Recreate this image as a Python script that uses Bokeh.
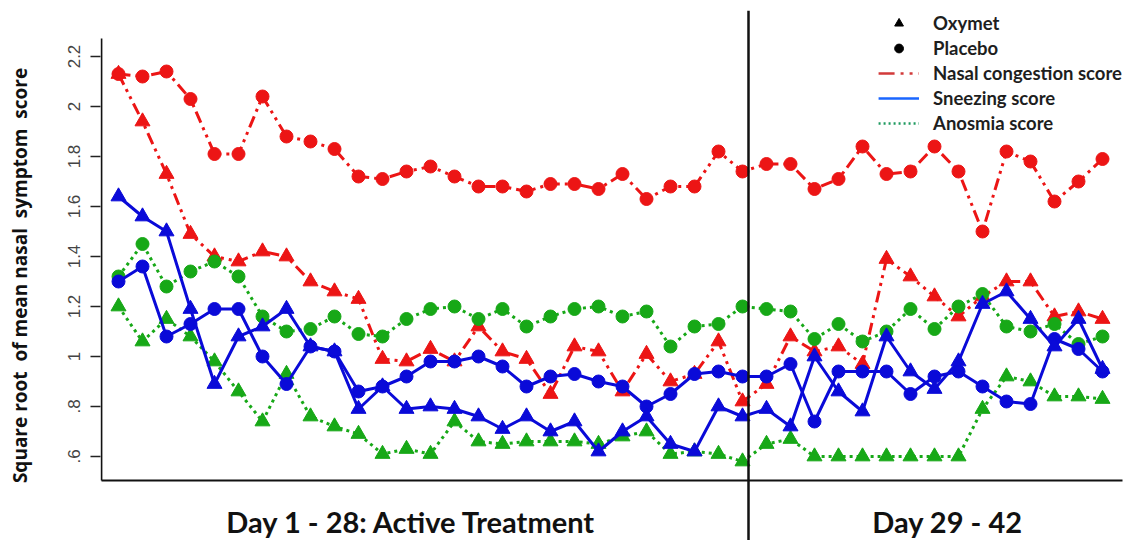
from bokeh.plotting import figure
from bokeh.models import Range1d, FixedTicker, Span, Legend, LegendItem, Label
from bokeh.embed import file_html
from bokeh.resources import INLINE

days = list(range(1, 43))

nasal_placebo = [2.13, 2.12, 2.14, 2.03, 1.81, 1.81, 2.04, 1.88, 1.86, 1.83,
                 1.72, 1.71, 1.74, 1.76, 1.72, 1.68, 1.68, 1.66, 1.69, 1.69,
                 1.67, 1.73, 1.63, 1.68, 1.68, 1.82, 1.74, 1.77, 1.77, 1.67,
                 1.71, 1.84, 1.73, 1.74, 1.84, 1.74, 1.50, 1.82, 1.78, 1.62,
                 1.70, 1.79]
nasal_oxymet = [2.13, 1.94, 1.73, 1.49, 1.40, 1.38, 1.42, 1.40, 1.30, 1.26,
                1.23, 0.99, 0.98, 1.03, 0.98, 1.12, 1.02, 0.99, 0.85, 1.04,
                1.02, 0.86, 1.01, 0.90, 0.93, 1.06, 0.82, 0.89, 1.08, 1.02,
                1.04, 0.97, 1.39, 1.32, 1.24, 1.16, 1.24, 1.30, 1.30, 1.16,
                1.18, 1.15]
sneezing_placebo = [1.30, 1.36, 1.08, 1.13, 1.19, 1.19, 1.00, 0.89, 1.04, 1.02,
                    0.86, 0.88, 0.92, 0.98, 0.98, 1.00, 0.96, 0.88, 0.92, 0.93,
                    0.90, 0.88, 0.80, 0.85, 0.93, 0.94, 0.92, 0.92, 0.97, 0.74,
                    0.94, 0.94, 0.94, 0.85, 0.92, 0.94, 0.88, 0.82, 0.81, 1.07,
                    1.03, 0.94]
sneezing_oxymet = [1.64, 1.56, 1.50, 1.19, 0.89, 1.08, 1.12, 1.19, 1.04, 1.02,
                   0.79, 0.88, 0.79, 0.80, 0.79, 0.76, 0.71, 0.76, 0.70, 0.74,
                   0.62, 0.70, 0.76, 0.65, 0.62, 0.80, 0.76, 0.79, 0.72, 1.00,
                   0.86, 0.78, 1.08, 0.94, 0.87, 0.98, 1.21, 1.26, 1.15, 1.04,
                   1.15, 0.95]
anosmia_placebo = [1.32, 1.45, 1.28, 1.34, 1.38, 1.32, 1.16, 1.10, 1.11, 1.16,
                   1.09, 1.08, 1.15, 1.19, 1.20, 1.15, 1.19, 1.12, 1.16, 1.19,
                   1.20, 1.16, 1.18, 1.04, 1.12, 1.13, 1.20, 1.19, 1.18, 1.07,
                   1.13, 1.06, 1.10, 1.19, 1.11, 1.20, 1.25, 1.12, 1.10, 1.13,
                   1.05, 1.08]
anosmia_oxymet = [1.20, 1.06, 1.15, 1.08, 0.98, 0.86, 0.74, 0.93, 0.76, 0.72,
                  0.69, 0.61, 0.63, 0.61, 0.74, 0.66, 0.65, 0.66, 0.66, 0.66,
                  0.65, 0.68, 0.70, 0.61, 0.62, 0.61, 0.58, 0.65, 0.67, 0.60,
                  0.60, 0.60, 0.60, 0.60, 0.60, 0.60, 0.79, 0.92, 0.90, 0.84,
                  0.84, 0.83]

y_ticks = [0.6, 0.8, 1.0, 1.2, 1.4, 1.6, 1.8, 2.0, 2.2]
y_tick_labels = [".6", ".8", "1", "1.2", "1.4", "1.6", "1.8", "2", "2.2"]
legend_labels = ["Oxymet", "Placebo", "Nasal congestion score", "Sneezing score", "Anosmia score"]
period_labels = ["Day 1 - 28: Active Treatment", "Day 29 - 42"]
y_title = "Square root\u00a0 of mean nasal\u00a0 symptom\u00a0 score"

RED = "#ec1515"
BLUE = "#0a0ad8"
GREEN = "#17a817"
DASHDOT = "12 5 3 5 3 5"
DOTTED = "3 4"

# geometry (pixel -> data)
px_day1, px_step = 118.0, 24.0
def xd(px):
    return (px - px_day1) / px_step + 1
def yd(py):
    return 2.2 - (py - 56.0) / 250.0

p = figure(width=1124, height=540, output_backend="svg", toolbar_location=None,
           x_range=Range1d(xd(100), xd(1124)), y_range=Range1d(yd(540), yd(10)),
           x_axis_location=None, y_axis_location="left",
           min_border_left=100, min_border_right=0, min_border_top=10, min_border_bottom=0)
p.outline_line_color = None
p.grid.visible = False
p.background_fill_color = "white"

ax = p.yaxis[0]
ax.ticker = FixedTicker(ticks=y_ticks)
ax.major_label_overrides = {t: l for t, l in zip(y_ticks, y_tick_labels)}
ax.minor_tick_line_color = None
ax.axis_line_color = None
ax.major_tick_out = 10
ax.major_tick_in = 0
ax.major_tick_line_width = 1.5
ax.major_tick_line_color = "#222222"
ax.major_label_orientation = "vertical"
ax.major_label_text_font = "Liberation Sans"
ax.major_label_text_font_size = "17px"
ax.major_label_text_color = "#444444"
ax.major_label_standoff = 11
ax.axis_label = y_title
ax.axis_label_text_font = "Open Sans"
ax.axis_label_text_font_style = "bold"
ax.axis_label_text_font_size = "19px"
ax.axis_label_text_color = "#111111"
ax.axis_label_standoff = 32

# frame lines (left axis and bottom)
p.segment(x0=[xd(101)], y0=[yd(480)], x1=[xd(101)], y1=[yd(38)], line_color="#111111", line_width=1.8)
p.segment(x0=[xd(101)], y0=[yd(480)], x1=[xd(1122)], y1=[yd(480)], line_color="#111111", line_width=1.8)

# vertical separator
p.add_layout(Span(location=xd(748), dimension="height", line_color="#111111", line_width=2.5))

series = [
    (nasal_placebo, RED, DASHDOT, "circle"),
    (nasal_oxymet, RED, DASHDOT, "triangle"),
    (anosmia_placebo, GREEN, DOTTED, "circle"),
    (anosmia_oxymet, GREEN, DOTTED, "triangle"),
    (sneezing_placebo, BLUE, "solid", "circle"),
    (sneezing_oxymet, BLUE, "solid", "triangle"),
]
for vals, col, dash, mk in series:
    p.line(days, vals, line_color=col, line_width=3, line_dash=dash)
    p.scatter(days, vals, marker=mk, size=15 if mk == "triangle" else 13,
              fill_color=col, line_color=col)

# legend key renderers (kept outside the visible range)
off_x, off_y = [-100, -99], [-100, -100]
r_tri = p.scatter(off_x, off_y, marker="triangle", size=14, fill_color="black", line_color="black")
r_cir = p.scatter(off_x, off_y, marker="circle", size=14, fill_color="black", line_color="black")
r_l1 = p.line(off_x, off_y, line_color="#d23a3a", line_width=2.5, line_dash="16 6 3 6 3 6")
r_l2 = p.line(off_x, off_y, line_color="#1a66ff", line_width=2.5)
r_l3 = p.line(off_x, off_y, line_color="#1f9a60", line_width=2.5, line_dash="2 3")
legend = Legend(items=[LegendItem(label=l, renderers=[r]) for l, r in
                       zip(legend_labels, [r_tri, r_cir, r_l1, r_l2, r_l3])],
                location="top_right", border_line_color=None, background_fill_alpha=0,
                label_text_font="Lato", label_text_font_style="bold", label_text_font_size="18.5px",
                label_text_color="#1e1e1e", glyph_width=41, glyph_height=22, label_height=22,
                spacing=3, label_standoff=14, padding=2, margin=2)
p.add_layout(legend)

for txt, px in zip(period_labels, [411, 947]):
    p.add_layout(Label(x=xd(px), y=yd(521), text=txt, text_align="center", text_baseline="middle",
                       text_font="Lato", text_font_style="bold", text_font_size="29px",
                       text_color="#111111"))

open("out.html", "w").write(file_html(p, INLINE))
